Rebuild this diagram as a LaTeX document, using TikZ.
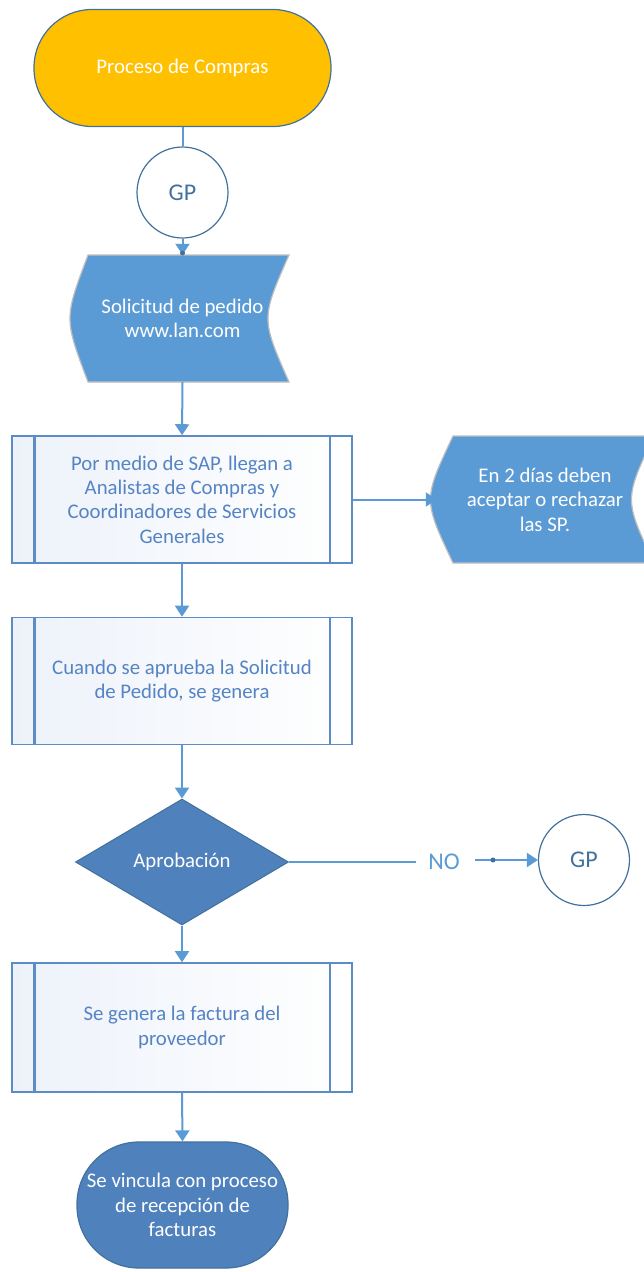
\documentclass[tikz,border=0pt]{standalone}
\usepackage{fontspec}
\setmainfont{Carlito}
\usetikzlibrary{shapes.geometric,arrows.meta}
\definecolor{orangeF}{HTML}{FFC000}
\definecolor{darkB}{HTML}{41719C}
\definecolor{midB}{HTML}{5B9BD5}
\definecolor{diaB}{HTML}{4F81BD}
\definecolor{txtB}{HTML}{5584C4}
\definecolor{boxB}{HTML}{5B8CC6}
\definecolor{grayB}{HTML}{BFBFBF}
\definecolor{gradB}{HTML}{EDF2FA}
\tikzset{
  txt/.style={font=\fontsize{20.8}{24.4}\selectfont, align=center},
  term/.style={draw=darkB, line width=1.2pt, rounded corners=58pt, minimum width=297pt, minimum height=117pt, txt},
  conn/.style={circle, draw=darkB, line width=1.2pt, fill=white, minimum size=91pt, inner sep=0pt, text=darkB, font=\fontsize{24}{28}\selectfont},
  pproc/.style={draw=boxB, line width=1.6pt, shading=axis, shading angle=-45, left color=gradB, right color=white, minimum width=340pt, minimum height=127pt, txt, text=txtB},
  sdata/.style={txt, text=white, inner sep=0pt},
  arr/.style={draw=midB, line width=2pt, -{Triangle[width=14pt,length=11pt]}},
  ln/.style={draw=midB, line width=2pt},
  inner/.style={draw=boxB, line width=2.6pt},
  dot/.style={fill=darkB, circle, inner sep=0pt, minimum size=5pt}
}
\begin{document}
\begin{tikzpicture}[x=1pt,y=-1pt]
\useasboundingbox (0,0) rectangle (644,1272);
\clip (0,0) rectangle (644,1272);
\fill[white] (0,0) rectangle (644,1272);

% start terminator
\node[term, fill=orangeF, text=white] (start) at (182.5,68) {Proceso de Compras};
% connector circle
\node[conn] (gp1) at (182.5,192.5) {GP};

% stored data 1
\fill[midB, draw=grayB, line width=1.2pt] (88,255) -- (289,255) .. controls (261,318.5) .. (289,382) -- (88,382) .. controls (64,318.5) .. cycle;
\node[sdata, minimum width=213pt, minimum height=127pt] (sd1) at (182.5,318.5) {Solicitud de pedido\\www.lan.com};

% predefined process 1
\node[pproc] (p1) at (182,499.5) {Por medio de SAP, llegan a\\Analistas de Compras y\\Coordinadores de Servicios\\Generales};
\draw[inner] ([xshift=23pt]p1.north west) -- ([xshift=23pt]p1.south west);
\draw[inner] ([xshift=-23pt]p1.north east) -- ([xshift=-23pt]p1.south east);

% stored data 2
\fill[midB, draw=grayB, line width=1.2pt] (453,436) -- (654,436) .. controls (624,499.5) .. (654,563) -- (453,563) .. controls (423,499.5) .. cycle;
\node[sdata, minimum width=216pt, minimum height=127pt] (sd2) at (545,499.5) {En 2 días deben\\aceptar o rechazar\\las SP.};

% predefined process 2
\node[pproc] (p2) at (182,681) {Cuando se aprueba la Solicitud\\de Pedido, se genera};
\draw[inner] ([xshift=23pt]p2.north west) -- ([xshift=23pt]p2.south west);
\draw[inner] ([xshift=-23pt]p2.north east) -- ([xshift=-23pt]p2.south east);

% decision
\node[diamond, draw=darkB, line width=1pt, fill=diaB, minimum width=213pt, minimum height=126pt, aspect=1.69, inner sep=0pt, txt, text=white] (dec) at (182,862) {Aprobación};

% NO label and GP connector
\node[text=midB, font=\fontsize{24}{28}\selectfont, inner sep=0pt] (no) at (444,862) {NO};
\node[conn] (gp2) at (584,860) {GP};
\coordinate (c1) at (475,860);

% predefined process 3
\node[pproc, minimum height=129pt] (p3) at (182,1027.5) {Se genera la factura del\\proveedor};
\draw[inner] ([xshift=23pt]p3.north west) -- ([xshift=23pt]p3.south west);
\draw[inner] ([xshift=-23pt]p3.north east) -- ([xshift=-23pt]p3.south east);

% end terminator
\node[term, fill=diaB, text=white, minimum width=211pt, minimum height=126pt, rounded corners=62pt] (end) at (182.5,1205) {Se vincula con proceso\\de recepción de\\facturas};

% connectors
\draw[ln] (start.south) -- (gp1.north);
\draw[arr] (gp1.south) -- (sd1.north);
\node[dot] (d1) at (182.5,253) {};
\draw[arr] (sd1.south) -- (p1.north);
\draw[arr] (p1.east) -- (sd2.west);
\draw[arr] (p1.south) -- (p2.north);
\draw[arr] (p2.south) -- (dec.north);
\draw[ln] (dec.east) -- ([xshift=-12pt]no.west);
\draw[arr] (c1) -- (gp2.west);
\node[dot] (d2) at (493,860) {};
\draw[arr] (dec.south) -- (p3.north);
\draw[arr] (p3.south) -- (end.north);
\end{tikzpicture}
\end{document}
